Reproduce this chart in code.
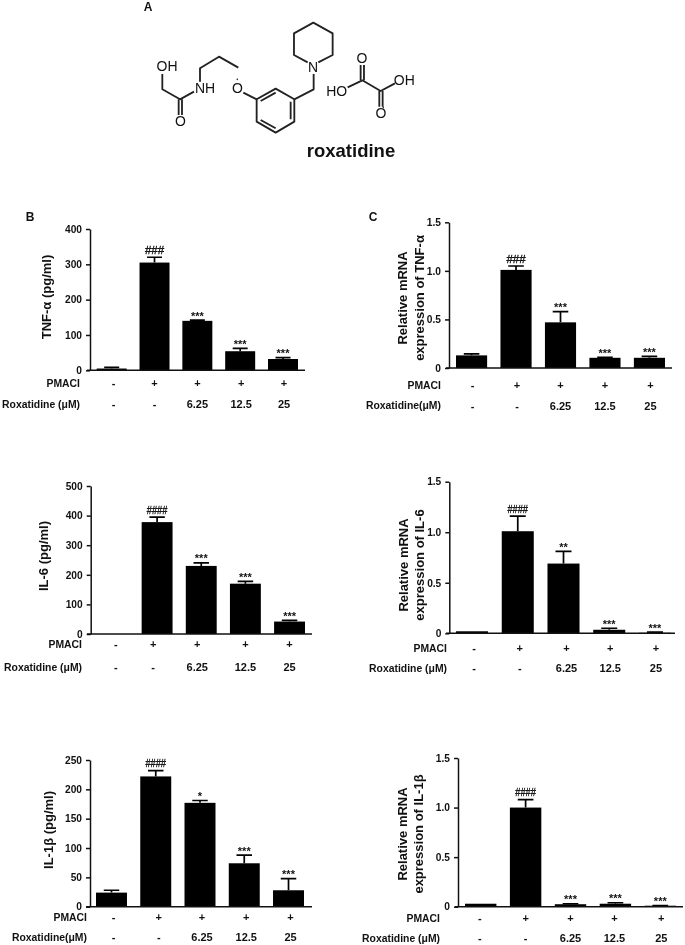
<!DOCTYPE html>
<html>
<head>
<meta charset="utf-8">
<style>
  html, body { margin: 0; padding: 0; background: #fff; }
  svg { display: block; filter: blur(0.35px); }
  text { font-family: 'Liberation Sans', Arial, sans-serif; fill: #111; }
</style>
</head>
<body>
<div id="figure"></div>
<script src="https://cdn.jsdelivr.net/npm/d3@7"></script>
<script>
// Values
const pmaci = ['-', '+', '+', '+', '+']
const doses = ['-', '-', '6.25', '12.5', '25']

const tnfProtein = [5, 305, 140, 54, 32]
const tnfProteinTop = [8, 320, 142, 62, 36]
const tnfProteinMarks = ['', '###', '***', '***', '***']

const il6Protein = [0, 378, 230, 170, 42]
const il6ProteinTop = [0, 395, 240, 178, 46]
const il6ProteinMarks = ['', '####', '***', '***', '***']

const il1Protein = [24, 222, 177, 74, 28]
const il1ProteinTop = [28, 232, 181, 88, 48]
const il1ProteinMarks = ['', '####', '*', '***', '***']

const tnfMrna = [0.13, 1.01, 0.47, 0.105, 0.105]
const tnfMrnaTop = [0.145, 1.05, 0.58, 0.11, 0.12]
const tnfMrnaMarks = ['', '###', '***', '***', '***']

const il6Mrna = [0.02, 1.01, 0.69, 0.035, 0.005]
const il6MrnaTop = [0.02, 1.16, 0.81, 0.05, 0.012]
const il6MrnaMarks = ['', '####', '**', '***', '***']

const il1Mrna = [0.03, 1.0, 0.025, 0.03, 0.01]
const il1MrnaTop = [0.03, 1.08, 0.03, 0.04, 0.012]
const il1MrnaMarks = ['', '####', '***', '***', '***']

const proteinTicks = { tnf: [0, 100, 200, 300, 400], il6: [0, 100, 200, 300, 400, 500], il1: [0, 50, 100, 150, 200, 250] }
const mrnaTicks = [0, 0.5, 1, 1.5]

// Where each panel sits on the page
const panels = [
  { values: tnfProtein, tops: tnfProteinTop, marks: tnfProteinMarks, max: 400, ticks: proteinTicks.tnf, format: d3.format('d'),
    axisX: 90, yTop: 229, yBottom: 370.3, barLeft: 96.7, barRight: 298, lineLeft: 87, lineRight: 305,
    title: ['TNF-α (pg/ml)'], titleX: 46.5, titleY: 297,
    rowRight: 80, rowY: [383, 404], rowName: 'Roxatidine (μM)', nudge: [2, 0, 0, 1, 1] },
  { values: il6Protein, tops: il6ProteinTop, marks: il6ProteinMarks, max: 500, ticks: proteinTicks.il6, format: d3.format('d'),
    axisX: 90.7, yTop: 486, yBottom: 634, barLeft: 97.5, barRight: 305, lineLeft: 87, lineRight: 312,
    title: ['IL-6 (pg/ml)'], titleX: 43.5, titleY: 556,
    rowRight: 82, rowY: [644, 667], rowName: 'Roxatidine (μM)', nudge: [3, -4, -4, 0, 0] },
  { values: il1Protein, tops: il1ProteinTop, marks: il1ProteinMarks, max: 250, ticks: proteinTicks.il1, format: d3.format('d'),
    axisX: 90, yTop: 760, yBottom: 906.7, barLeft: 96, barRight: 304, lineLeft: 86, lineRight: 312,
    title: ['IL-1β (pg/ml)'], titleX: 48, titleY: 830,
    rowRight: 87, rowY: [917, 937], rowName: 'Roxatidine(μM)', nudge: [2, 3, 2, 2, 2] },
  { values: tnfMrna, tops: tnfMrnaTop, marks: tnfMrnaMarks, max: 1.5, ticks: mrnaTicks, format: d => d === 0 ? '0' : d3.format('.1f')(d),
    axisX: 449, yTop: 222.3, yBottom: 368, barLeft: 456, barRight: 665, lineLeft: 446, lineRight: 672,
    title: ['Relative mRNA', 'expression of TNF-α'], titleX: 402.5, titleY: 298,
    rowRight: 441, rowY: [385, 405.5], rowName: 'Roxatidine(μM)', nudge: [1, 1, 0, 0, 1] },
  { values: il6Mrna, tops: il6MrnaTop, marks: il6MrnaMarks, max: 1.5, ticks: mrnaTicks, format: d => d === 0 ? '0' : d3.format('.1f')(d),
    axisX: 449.3, yTop: 481.7, yBottom: 633.3, barLeft: 456, barRight: 671, lineLeft: 446, lineRight: 675,
    title: ['Relative mRNA', 'expression of IL-6'], titleX: 403, titleY: 565,
    rowRight: 447, rowY: [648, 668], rowName: 'Roxatidine (μM)', nudge: [2, 2, 3, 1, 1] },
  { values: il1Mrna, tops: il1MrnaTop, marks: il1MrnaMarks, max: 1.5, ticks: mrnaTicks, format: d => d === 0 ? '0' : d3.format('.1f')(d),
    axisX: 458, yTop: 758, yBottom: 906.7, barLeft: 465, barRight: 676, lineLeft: 455, lineRight: 683,
    title: ['Relative mRNA', 'expression of IL-1β'], titleX: 402, titleY: 834,
    rowRight: 440, rowY: [918, 938], rowName: 'Roxatidine (μM)', nudge: [-1, 0, 0, -1, 1] }
]

const svg = d3
  .select('#figure')
  .append('svg')
  .attr('width', 685)
  .attr('height', 945)

function drawPanel(p) {
  const g = svg.append('g')

  const xPositionScale = d3
    .scaleBand()
    .domain(d3.range(p.values.length))
    .range([p.barLeft, p.barRight])
    .paddingInner(0.3)
  const yPositionScale = d3
    .scaleLinear()
    .domain([0, p.max])
    .range([p.yBottom, p.yTop])
  const band = xPositionScale.bandwidth()
  const center = i => xPositionScale(i) + band / 2

  g.selectAll('.bar')
    .data(p.values)
    .enter()
    .append('rect')
    .attr('class', 'bar')
    .attr('x', (d, i) => xPositionScale(i))
    .attr('y', d => yPositionScale(d))
    .attr('width', band)
    .attr('height', d => p.yBottom - yPositionScale(d))
    .attr('fill', '#000')

  // Error bars, upper half only
  g.selectAll('.err')
    .data(p.tops)
    .enter()
    .append('path')
    .attr('class', 'err')
    .attr('fill', 'none')
    .attr('stroke', '#000')
    .attr('stroke-width', 1.7)
    .attr('d', (d, i) => {
      if (d <= p.values[i]) return null
      const y = yPositionScale(d)
      const cx = center(i)
      return `M${cx},${yPositionScale(p.values[i])}V${y}M${cx - band / 4},${y}H${cx + band / 4}`
    })

  // The hash marks are the same height but the four-hash ones are squeezed to the same width
  g.selectAll('.mark')
    .data(p.marks)
    .enter()
    .append('text')
    .attr('class', 'mark')
    .attr('x', (d, i) => center(i))
    .attr('y', (d, i) => yPositionScale(p.tops[i]) + (d[0] === '#' ? -3.5 : -0.5))
    .attr('text-anchor', 'middle')
    .attr('font-size', d => d[0] === '#' ? 11.5 : 11)
    .attr('font-weight', d => d[0] === '#' ? 400 : 700)
    .attr('stroke', d => d[0] === '#' ? '#111' : null)
    .attr('stroke-width', d => d[0] === '#' ? 0.35 : null)
    .attr('textLength', d => d === '####' ? 20.5 : null)
    .attr('lengthAdjust', d => d === '####' ? 'spacingAndGlyphs' : null)
    .text(d => d)

  const yAxis = d3
    .axisLeft(yPositionScale)
    .tickValues(p.ticks)
    .tickFormat(p.format)
    .tickSize(4)
    .tickSizeOuter(0)
    .tickPadding(4)
  const axis = g
    .append('g')
    .attr('transform', 'translate(' + p.axisX + ',0)')
    .call(yAxis)
  axis.selectAll('path, line').attr('stroke', '#111').attr('stroke-width', 1.5)
  axis.selectAll('text').attr('font-size', 10.2).attr('font-weight', 700).attr('font-family', null)

  g.append('line')
    .attr('x1', p.lineLeft)
    .attr('x2', p.lineRight)
    .attr('y1', p.yBottom)
    .attr('y2', p.yBottom)
    .attr('stroke', '#111')
    .attr('stroke-width', 1.5)

  // One or two rotated title lines, the first is the outer one
  p.title.forEach((line, i) => {
    g.append('text')
      .attr('transform', `translate(${p.titleX + i * 16.5},${p.titleY}) rotate(-90)`)
      .attr('text-anchor', 'middle')
      .attr('dominant-baseline', 'central')
      .attr('font-size', 13)
      .attr('font-weight', 700)
      .text(line)
  })

  const rows = [
    { name: 'PMACI', cells: pmaci },
    { name: p.rowName, cells: doses }
  ]
  rows.forEach((row, r) => {
    g.append('text')
      .attr('x', p.rowRight)
      .attr('y', p.rowY[r])
      .attr('text-anchor', 'end')
      .attr('dominant-baseline', 'central')
      .attr('font-size', 10.4)
      .attr('font-weight', 700)
      .text(row.name)
    g.selectAll('.cell' + r)
      .data(row.cells)
      .enter()
      .append('text')
      .attr('class', 'cell' + r)
      .attr('x', (d, i) => center(i) + p.nudge[i])
      .attr('y', p.rowY[r])
      .attr('text-anchor', 'middle')
      .attr('dominant-baseline', 'central')
      .attr('font-size', 11)
      .attr('font-weight', 700)
      .text(d => d)
  })
}

panels.forEach(drawPanel)

// Panel letters
const letters = [['A', 148, 7], ['B', 30, 217], ['C', 373, 217]]
svg
  .selectAll('.letter')
  .data(letters)
  .enter()
  .append('text')
  .attr('class', 'letter')
  .attr('x', d => d[1])
  .attr('y', d => d[2])
  .attr('text-anchor', 'middle')
  .attr('dominant-baseline', 'central')
  .attr('font-size', 12)
  .attr('font-weight', 700)
  .text(d => d[0])

// Structure in panel A, drawn in the units of a 3x crop starting at x=120
const bonds = [
  'M127,222V268L180,298L222,275',
  'M176,298V345M186,298V345',
  'M240,245V205L297,170L355,203',
  'M370,278L410,298L467,266L523,298V365L467,398L410,365V298',
  'M422,303L467,278M512,305V358M422,360L467,385',
  'M523,298L581,268V222',
  'M563,187L522,165V100L580,68L638,100V165L595,187',
  'M683,262L727,241L782,273L825,250',
  'M722,241V195M732,241V195M778,273V320M788,273V320'
]
const atoms = [
  ['OH', 141, 198], ['NH', 255, 265], ['O', 181, 362], ['O', 352, 265], ['N', 579, 200],
  ['HO', 650, 272], ['O', 726, 175], ['OH', 853, 240], ['O', 783, 340]
]
const dots = [[352, 238], [733, 199], [790, 322]]

const mol = svg.append('g').attr('transform', 'translate(120,0) scale(0.3333)')
mol
  .selectAll('path')
  .data(bonds)
  .enter()
  .append('path')
  .attr('d', d => d)
  .attr('fill', 'none')
  .attr('stroke', '#222')
  .attr('stroke-width', 5.5)
  .attr('stroke-linejoin', 'round')
mol
  .selectAll('text')
  .data(atoms)
  .enter()
  .append('text')
  .attr('x', d => d[1])
  .attr('y', d => d[2])
  .attr('text-anchor', 'middle')
  .attr('dominant-baseline', 'central')
  .attr('font-size', 42)
  .text(d => d[0])
mol
  .selectAll('circle')
  .data(dots)
  .enter()
  .append('circle')
  .attr('cx', d => d[0])
  .attr('cy', d => d[1])
  .attr('r', 2.5)
  .attr('fill', '#222')

svg
  .append('text')
  .attr('x', 351)
  .attr('y', 157)
  .attr('text-anchor', 'middle')
  .attr('font-size', 18.5)
  .attr('font-weight', 700)
  .text('roxatidine')
</script>
</body>
</html>
